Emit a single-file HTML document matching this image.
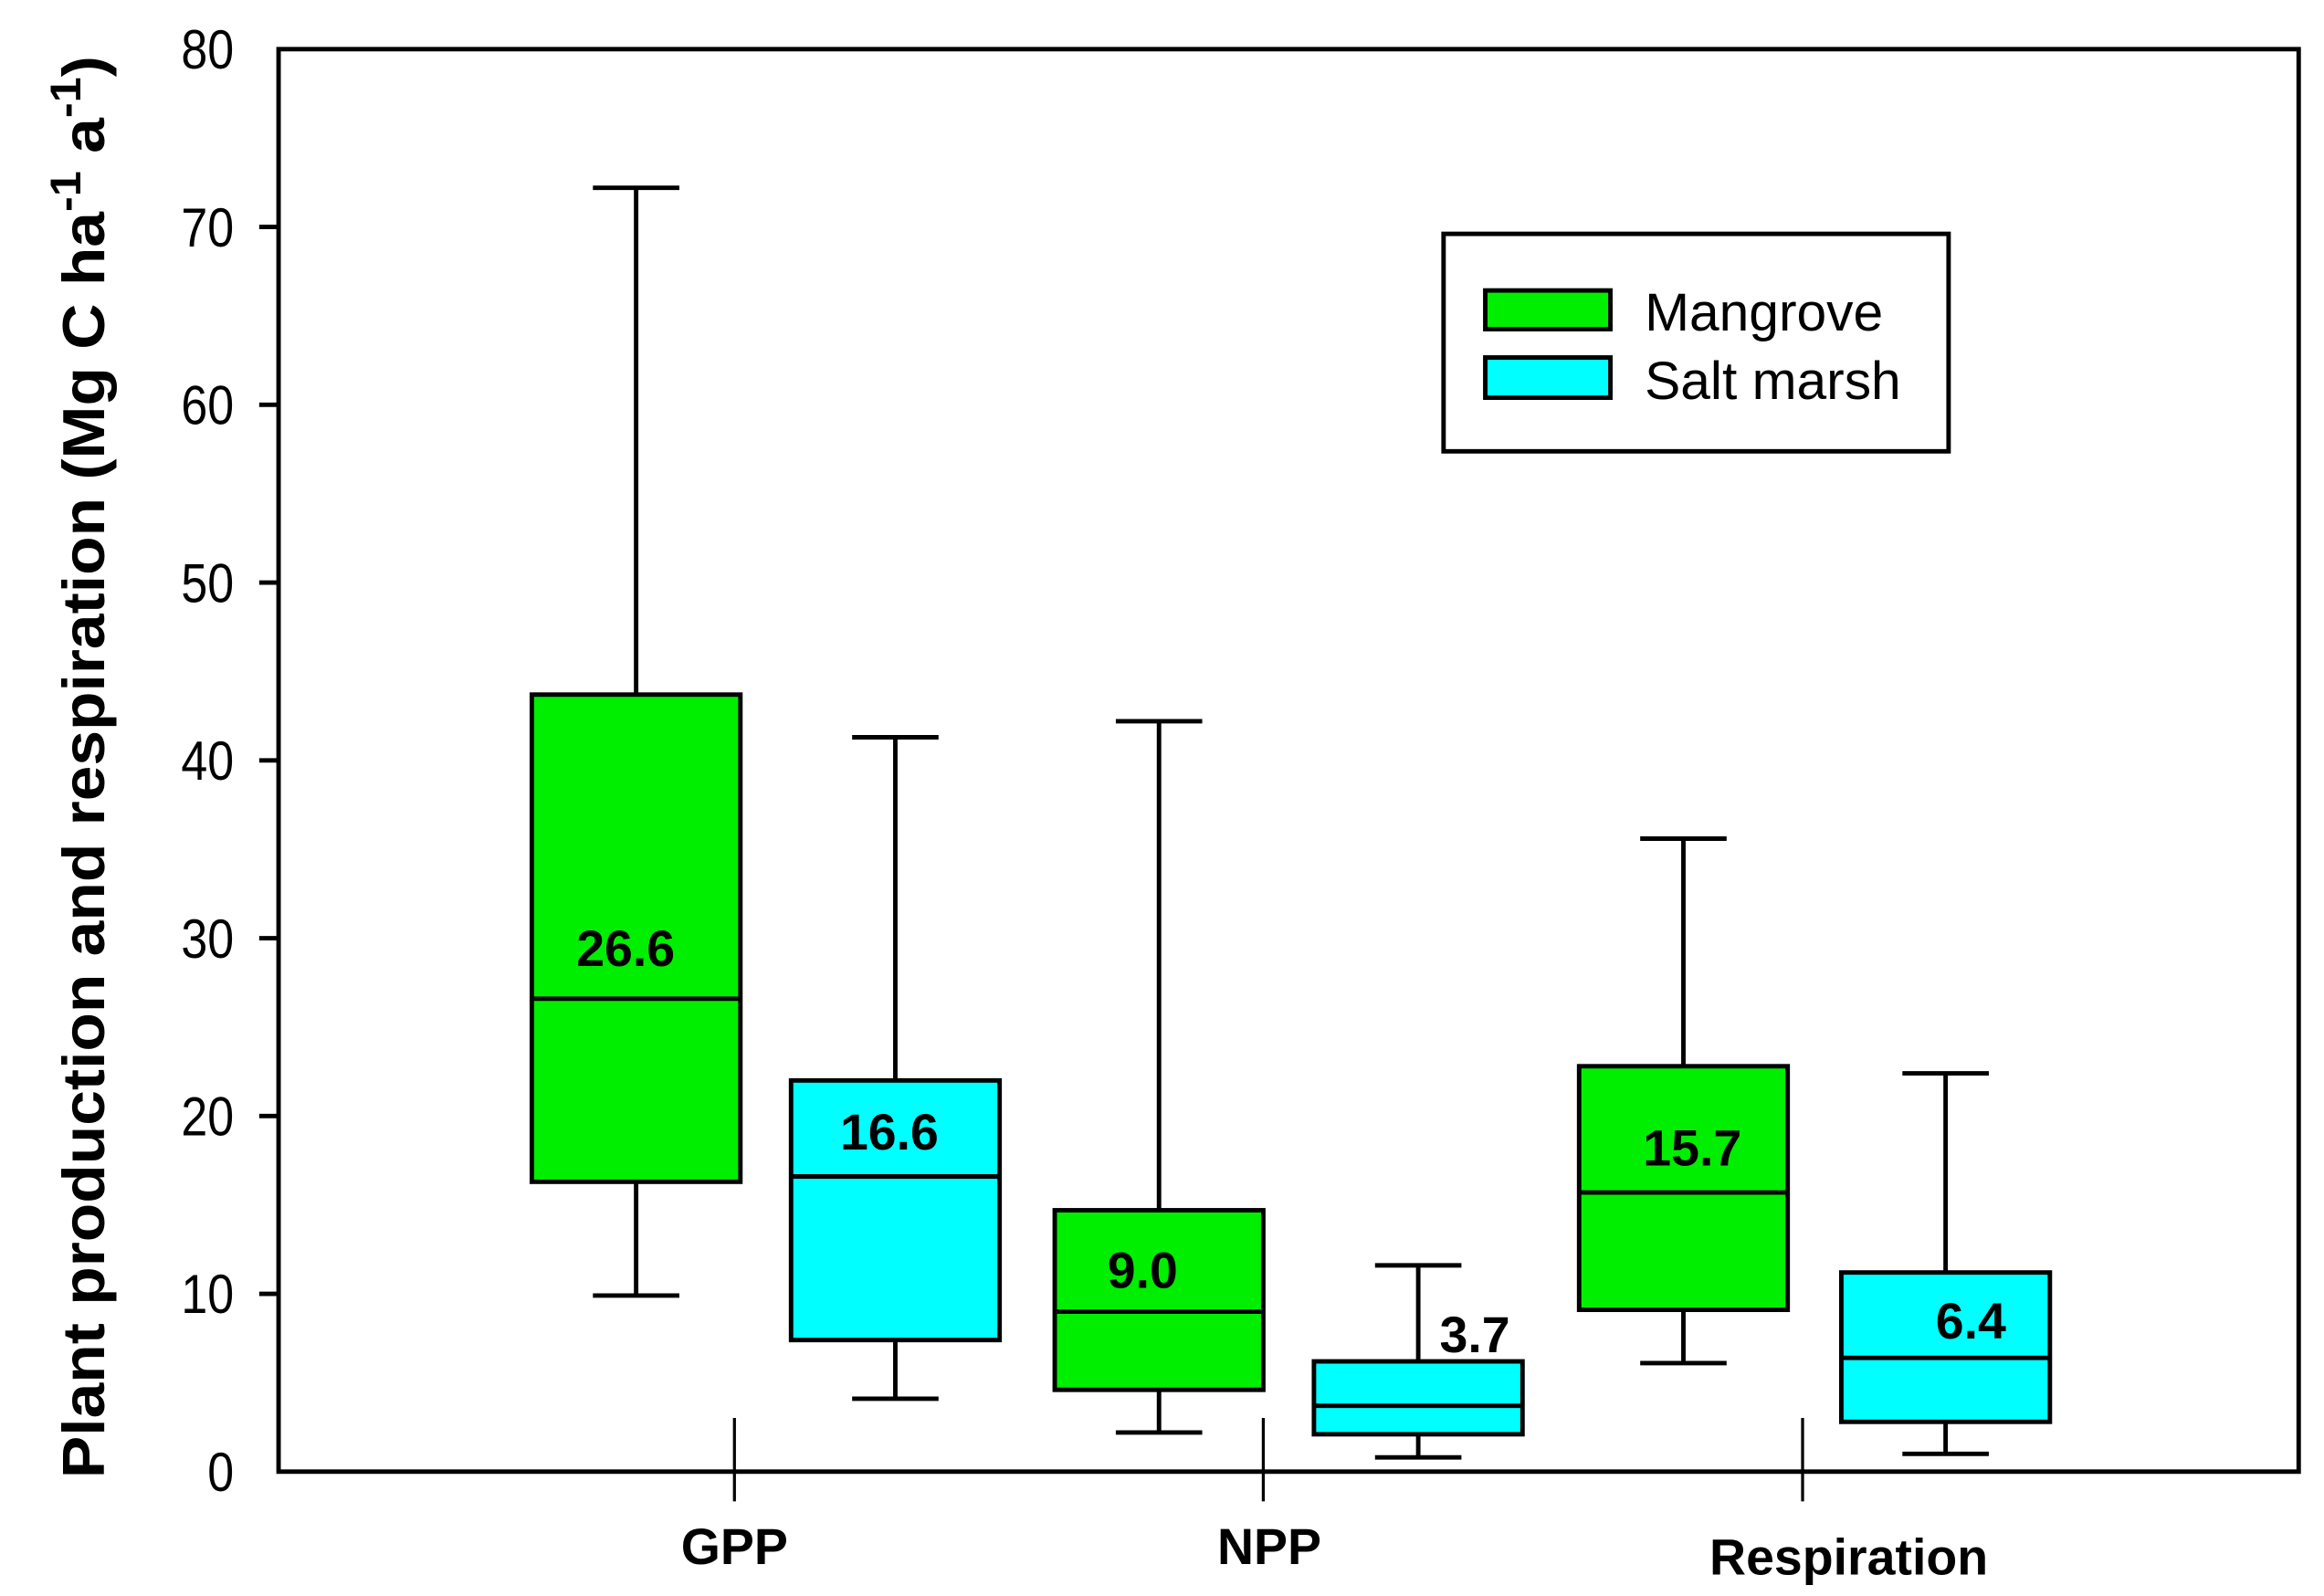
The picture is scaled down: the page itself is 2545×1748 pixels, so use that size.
<!DOCTYPE html>
<html><head><meta charset="utf-8"><style>
html,body{margin:0;padding:0;background:#fff;}
svg{display:block;}
text{font-family:"Liberation Sans",Arial,sans-serif;}
</style></head><body>
<svg id="chart" width="2545" height="1748" viewBox="0 0 1560 1071.5" preserveAspectRatio="none" xmlns="http://www.w3.org/2000/svg">
<rect x="187" y="33" width="1356" height="955" fill="#fff" stroke="#000" stroke-width="3"/>
<g id="yaxis"></g>
<g id="boxes"></g>
<g id="xaxis"></g>
<text transform="translate(70,515) rotate(-90)" text-anchor="middle" font-weight="bold" font-size="40" textLength="955" lengthAdjust="spacingAndGlyphs">Plant production and respiration (Mg  C ha<tspan dy="-16" font-size="29">-1</tspan><tspan dy="16"> a</tspan><tspan dy="-16" font-size="29">-1</tspan><tspan dy="16">)</tspan></text>
<g>
<rect x="969" y="157" width="339" height="146" fill="#fff" stroke="#000" stroke-width="3"/>
<rect x="997" y="195" width="84" height="26" fill="#00ee00" stroke="#000" stroke-width="3"/>
<text x="1104" y="222" font-size="36">Mangrove</text>
<rect x="997" y="240" width="84" height="27" fill="#00ffff" stroke="#000" stroke-width="3"/>
<text x="1104" y="268" font-size="36">Salt marsh</text>
</g>
</svg>
<script>
const categories = ["GPP", "NPP", "Respiration"];
const series = ["Mangrove", "Salt marsh"];
const whiskerLow = [9.9, 4.1, 2.2, 0.8, 6.1, 1.0];
const q1 = [16.3, 7.4, 4.6, 2.1, 9.1, 2.8];
const median = [26.6, 16.6, 9.0, 3.7, 15.7, 6.4];
const q3 = [43.7, 22.0, 14.7, 6.2, 22.8, 11.2];
const whiskerHigh = [72.2, 41.3, 42.2, 11.6, 35.6, 22.4];
const medianLabels = ["26.6", "16.6", "9.0", "3.7", "15.7", "6.4"];
const yTicks = [0, 10, 20, 30, 40, 50, 60, 70, 80];

const NS = "http://www.w3.org/2000/svg";
const X0 = 187, X1 = 1543, Y0 = 988, Y1 = 33, VMAX = 80;
function yScale(v){ return Y0 - (v / VMAX) * (Y0 - Y1); }
const boxCenters = [427, 601, 778, 952, 1130, 1306];
const catCenters = [493, 848, 1210];
const catLabelX = [493, 852, 1241];
const catLabelY = [1050, 1050, 1057];
const labelDx = [-7, -4, -11, 38, 6, 17];
const labelDy = [-22, -18, -16, -36, -18, -13];
const BW = 140, CAP = 58;
const colors = ["#00ee00", "#00ffff"];

function mk(tag, attrs, parent){
  const el = document.createElementNS(NS, tag);
  for (const k in attrs) el.setAttribute(k, attrs[k]);
  parent.appendChild(el);
  return el;
}
const yaxis = document.getElementById('yaxis');
yTicks.forEach(t => {
  const y = yScale(t);
  if (t > 0 && t < VMAX) {
    const tk = mk('line', {x1: X0 - 13, x2: X0, y1: y, y2: y, stroke: '#000', 'stroke-width': 3}, yaxis);
    
    
  }
  const tx = mk('text', {x: 0, y: 0, 'text-anchor': 'end', 'font-size': 37,
    transform: 'translate(157,' + (y + 13) + ') scale(0.86,1)'}, yaxis);
  tx.textContent = t;
  
  
});

const boxes = document.getElementById('boxes');
median.forEach((m, i) => {
  const g = mk('g', {}, boxes);
  
  
  const cx = boxCenters[i];
  const st = {stroke: '#000', 'stroke-width': 3};
  const w1 = mk('line', Object.assign({x1: cx, x2: cx, y1: yScale(q3[i]), y2: yScale(whiskerHigh[i])}, st), g);
  
  
  const c1 = mk('line', Object.assign({x1: cx - CAP / 2, x2: cx + CAP / 2, y1: yScale(whiskerHigh[i]), y2: yScale(whiskerHigh[i])}, st), g);
  
  
  const w2 = mk('line', Object.assign({x1: cx, x2: cx, y1: yScale(q1[i]), y2: yScale(whiskerLow[i])}, st), g);
  
  
  const c2 = mk('line', Object.assign({x1: cx - CAP / 2, x2: cx + CAP / 2, y1: yScale(whiskerLow[i]), y2: yScale(whiskerLow[i])}, st), g);
  
  
  const r = mk('rect', Object.assign({x: cx - BW / 2, y: yScale(q3[i]), width: BW, height: yScale(q1[i]) - yScale(q3[i]), fill: colors[i % 2]}, st), g);
  
  
  const ml = mk('line', Object.assign({x1: cx - BW / 2, x2: cx + BW / 2, y1: yScale(m), y2: yScale(m)}, st), g);
  
  
  const lt = mk('text', {x: cx + labelDx[i], y: yScale(m) + labelDy[i], 'text-anchor': 'middle', 'font-size': 34, 'font-weight': 'bold'}, g);
  lt.textContent = medianLabels[i];
  
  
});

const xaxis = document.getElementById('xaxis');
categories.forEach((c, i) => {
  const tk = mk('line', {x1: catCenters[i], x2: catCenters[i], y1: 952, y2: 1008, stroke: '#000', 'stroke-width': 2}, xaxis);
  
  
  const tx = mk('text', {x: catLabelX[i], y: catLabelY[i], 'text-anchor': 'middle', 'font-size': 34, 'font-weight': 'bold'}, xaxis);
  tx.textContent = c;
  
  
});
</script>
</body></html>
